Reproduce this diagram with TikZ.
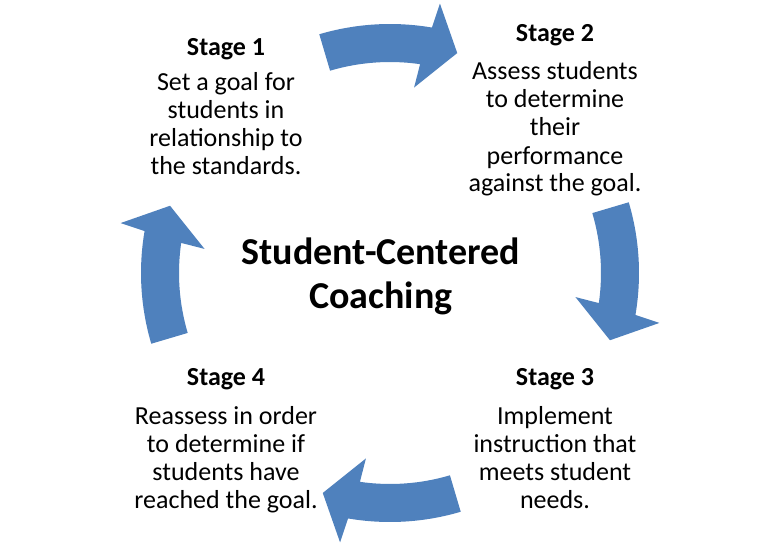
\documentclass[tikz,border=0pt]{standalone}
\usepackage{fontspec}
\setmainfont{Carlito}
\definecolor{arrowblue}{RGB}{79,129,189}
\tikzset{
  cyclearrow/.style={fill=arrowblue, draw=none},
  stagehead/.style={anchor=base, inner sep=0pt, font=\fontsize{19.5}{21}\selectfont\bfseries},
  stagebody/.style={anchor=base, inner sep=0pt, align=center, font=\fontsize{19.5}{21}\selectfont},
  titletext/.style={anchor=base, inner sep=0pt, align=center, font=\fontsize{28.5}{33}\selectfont\bfseries}
}
\newcommand{\cyclearrowpath}{%
  (106.5:249) arc[start angle=106.5, end angle=80.3, radius=249]
  -- (79.5:274) -- (73:230) -- (82.6:187) -- (81.8:211)
  arc[start angle=81.8, end angle=106.5, radius=211] -- cycle}
\begin{document}
\begin{tikzpicture}[x=0.75pt, y=0.75pt]
\useasboundingbox (0,0) rectangle (770,547);
\fill[white] (0,0) rectangle (770,547);
\coordinate (c) at (390,274);
\foreach \k in {0,1,2,3} {
  \begin{scope}[shift={(c)}, rotate=-90*\k]
    \fill[cyclearrow] \cyclearrowpath;
  \end{scope}
}
% multi-line nodes: anchor=base sits on the last line's baseline
\node[stagehead] (s1h) at (226,491) {Stage 1};
\node[stagebody] (s1b) at (226,373) {Set a goal for\\students in\\relationship to\\the standards.};
\node[stagehead] (s2h) at (555,505) {Stage 2};
\node[stagebody] (s2b) at (555,355) {Assess students\\to determine\\their\\performance\\against the goal.};
\node[stagehead] (s3h) at (555,162) {Stage 3};
\node[stagebody] (s3b) at (555,39) {Implement\\instruction that\\meets student\\needs.};
\node[stagehead] (s4h) at (226,162) {Stage 4};
\node[stagebody] (s4b) at (226,39) {Reassess in order\\to determine if\\students have\\reached the goal.};
\node[titletext] (title) at (381,239) {Student-Centered\\Coaching};
\end{tikzpicture}
\end{document}
